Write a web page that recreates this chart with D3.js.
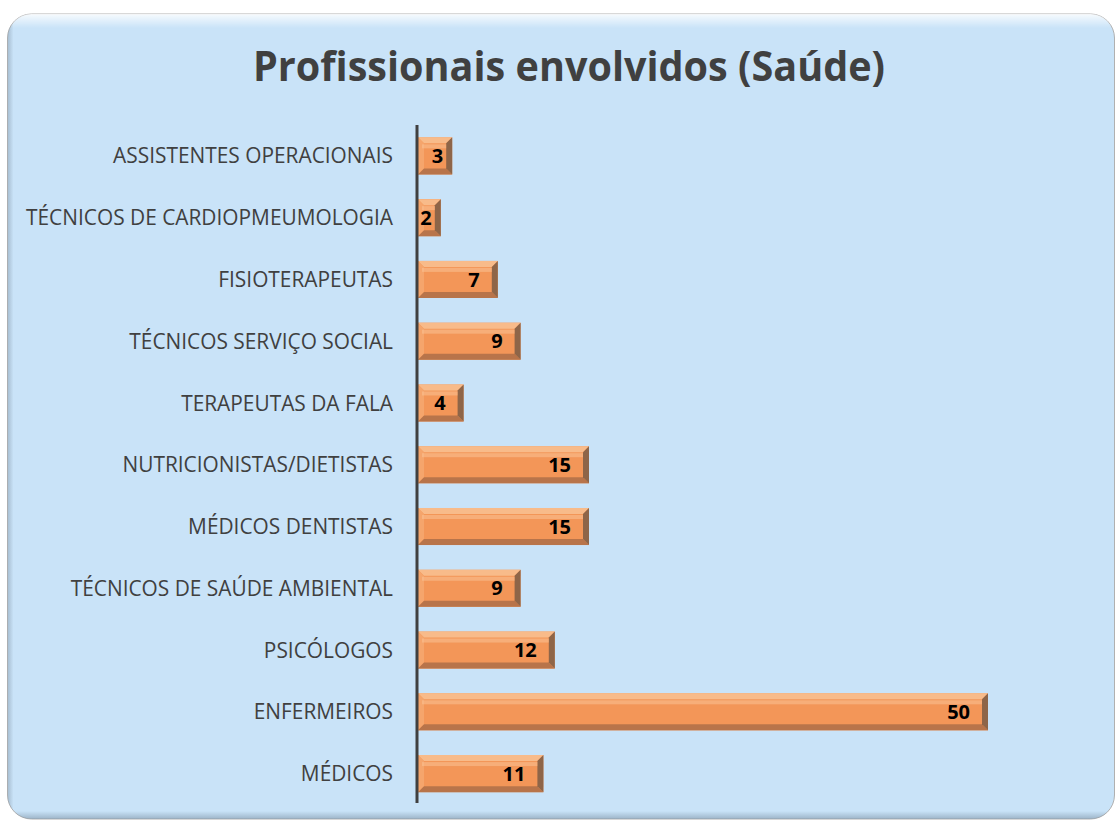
<!DOCTYPE html>
<html>
<head>
<meta charset="utf-8">
<script src="https://cdn.jsdelivr.net/npm/d3@7"></script>
<style>
  html, body { margin: 0; padding: 0; background: #fff; }
  svg { display: block; }
</style>
</head>
<body>
<svg id="chart"></svg>
<script>
const width = 1116
const height = 823

const title = 'Profissionais envolvidos (Saúde)'

const categories = [
  'ASSISTENTES OPERACIONAIS',
  'TÉCNICOS DE CARDIOPMEUMOLOGIA',
  'FISIOTERAPEUTAS',
  'TÉCNICOS SERVIÇO SOCIAL',
  'TERAPEUTAS DA FALA',
  'NUTRICIONISTAS/DIETISTAS',
  'MÉDICOS DENTISTAS',
  'TÉCNICOS DE SAÚDE AMBIENTAL',
  'PSICÓLOGOS',
  'ENFERMEIROS',
  'MÉDICOS'
]

const values = [3, 2, 7, 9, 4, 15, 15, 9, 12, 50, 11]

const data = categories.map((c, i) => ({ name: c, value: values[i] }))

const svg = d3.select('#chart')
  .attr('width', width)
  .attr('height', height)

const defs = svg.append('defs')

// frame gradients
const topGlow = defs.append('linearGradient')
  .attr('id', 'topGlow')
  .attr('x1', 0).attr('y1', 0).attr('x2', 0).attr('y2', 1)
topGlow.append('stop').attr('offset', 0).attr('stop-color', '#ffffff').attr('stop-opacity', 0.85)
topGlow.append('stop').attr('offset', 1).attr('stop-color', '#ffffff').attr('stop-opacity', 0)

const bottomShade = defs.append('linearGradient')
  .attr('id', 'bottomShade')
  .attr('x1', 0).attr('y1', 0).attr('x2', 0).attr('y2', 1)
bottomShade.append('stop').attr('offset', 0).attr('stop-color', '#7f95a8').attr('stop-opacity', 0)
bottomShade.append('stop').attr('offset', 1).attr('stop-color', '#7f95a8').attr('stop-opacity', 0.6)

const leftShade = defs.append('linearGradient')
  .attr('id', 'leftShade')
  .attr('x1', 0).attr('y1', 0).attr('x2', 1).attr('y2', 0)
leftShade.append('stop').attr('offset', 0).attr('stop-color', '#8fa3b5').attr('stop-opacity', 0.6)
leftShade.append('stop').attr('offset', 1).attr('stop-color', '#8fa3b5').attr('stop-opacity', 0)

// chart frame
const frame = { x: 7.5, y: 14, w: 1107, h: 805, r: 24 }

svg.append('rect')
  .attr('x', frame.x).attr('y', frame.y)
  .attr('width', frame.w).attr('height', frame.h)
  .attr('rx', frame.r)
  .attr('fill', '#c9e3f8')
  .attr('stroke', '#b0b0b0')
  .attr('stroke-width', 1)

const clip = defs.append('clipPath').attr('id', 'frameClip')
clip.append('rect')
  .attr('x', frame.x).attr('y', frame.y)
  .attr('width', frame.w).attr('height', frame.h)
  .attr('rx', frame.r)

const shading = svg.append('g').attr('clip-path', 'url(#frameClip)')
shading.append('rect')
  .attr('x', frame.x).attr('y', frame.y)
  .attr('width', frame.w).attr('height', 14)
  .attr('fill', 'url(#topGlow)')
shading.append('rect')
  .attr('x', frame.x).attr('y', frame.y + frame.h - 8)
  .attr('width', frame.w).attr('height', 8)
  .attr('fill', 'url(#bottomShade)')
shading.append('rect')
  .attr('x', frame.x).attr('y', frame.y)
  .attr('width', 6).attr('height', frame.h)
  .attr('fill', 'url(#leftShade)')

// title
const titleText = svg.append('text')
  .attr('x', 569)
  .attr('y', 81)
  .attr('text-anchor', 'middle')
  .attr('font-family', '"Open Sans", sans-serif')
  .attr('font-weight', 700)
  .attr('font-size', 40.5)
  .attr('fill', '#404040')
  .text(title)
titleText
  .attr('textLength', 632)
  .attr('lengthAdjust', 'spacingAndGlyphs')

// scales
const x = d3.scaleLinear()
  .domain([0, 50])
  .range([418, 988])

const y = d3.scaleBand()
  .domain(categories)
  .range([125, 804.5])
  .paddingInner(0.4)
  .paddingOuter(0.2)

// category axis (labels only, axis line drawn separately)
const yAxis = svg.append('g')
  .attr('transform', 'translate(393,0)')
  .call(d3.axisLeft(y).tickSize(0).tickPadding(0))

yAxis.select('.domain').remove()
const labels = yAxis.selectAll('text')
  .attr('font-family', '"Open Sans", sans-serif')
  .attr('font-size', 21)
  .attr('fill', '#404040')
  .attr('dy', '0.36em')

// Calibri is narrower than the fallback font: squeeze every label by the same ratio
let longest = 0
labels.each(function () { longest = Math.max(longest, this.getComputedTextLength()) })
const squeeze = 367 / longest
labels.each(function () {
  d3.select(this)
    .attr('textLength', this.getComputedTextLength() * squeeze)
    .attr('lengthAdjust', 'spacingAndGlyphs')
})

// bars with bevel
const bev = 6
const bars = svg.append('g')
  .selectAll('g')
  .data(data)
  .join('g')
  .attr('class', 'bar')

bars.each(function (d) {
  const g = d3.select(this)
  const x0 = x(0)
  const x1 = x(d.value)
  const y0 = y(d.name)
  const y1 = y0 + y.bandwidth()
  const b = Math.min(bev, (x1 - x0) / 2)

  g.append('rect')
    .attr('x', x0).attr('y', y0)
    .attr('width', x1 - x0).attr('height', y1 - y0)
    .attr('fill', '#f39658')

  // top bevel
  g.append('polygon')
    .attr('points', [[x0, y0], [x1, y0], [x1 - b, y0 + b], [x0 + b, y0 + b]].join(' '))
    .attr('fill', '#f8bb8a')
  // left bevel
  g.append('polygon')
    .attr('points', [[x0, y0], [x0 + b, y0 + b], [x0 + b, y1 - b], [x0, y1]].join(' '))
    .attr('fill', '#f5a56c')
  // bottom bevel
  g.append('polygon')
    .attr('points', [[x0, y1], [x0 + b, y1 - b], [x1 - b, y1 - b], [x1, y1]].join(' '))
    .attr('fill', '#b8744a')
  // right bevel
  g.append('polygon')
    .attr('points', [[x1, y0], [x1, y1], [x1 - b, y1 - b], [x1 - b, y0 + b]].join(' '))
    .attr('fill', '#8e6548')
})

// soft highlight band along the top of each bar
bars.append('rect')
  .attr('x', d => x(0) + 4)
  .attr('y', d => y(d.name) + 7)
  .attr('width', d => Math.max(0, x(d.value) - x(0) - 10))
  .attr('height', 4)
  .attr('fill', '#f9c296')
  .attr('opacity', 0.55)

// value labels, inside end
bars.append('text')
  .attr('font-family', '"Open Sans", sans-serif')
  .attr('font-weight', 700)
  .attr('font-size', 20)
  .attr('fill', '#000')
  .attr('text-anchor', 'end')
  .attr('y', d => y(d.name) + y.bandwidth() / 2)
  .attr('dy', '0.36em')
  .text(d => d.value)
  .attr('x', function (d) {
    const w = this.getComputedTextLength()
    const end = x(d.value)
    const pos = Math.max(end - 18, x(0) + w + 14)
    return Math.min(pos, end - 9)
  })

// vertical axis line
svg.append('line')
  .attr('x1', 417).attr('x2', 417)
  .attr('y1', 125).attr('y2', 803)
  .attr('stroke', '#404040')
  .attr('stroke-width', 3)
</script>
</body>
</html>
